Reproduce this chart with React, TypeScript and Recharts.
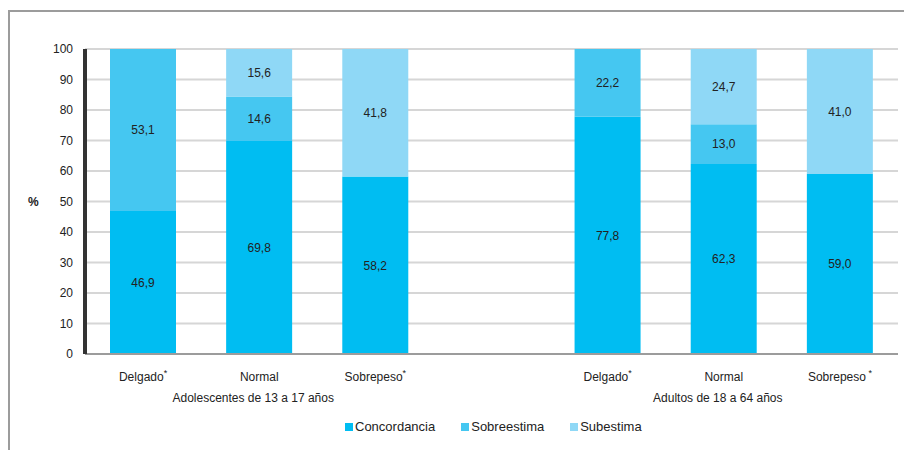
import { Bar, BarChart, CartesianGrid, LabelList, XAxis, YAxis } from "recharts";

const categories = ["Delgado", "Normal", "Sobrepeso", "", "Delgado", "Normal", "Sobrepeso"];
const asterisks = ["*", "", "*", "", "*", "", " *"];
const groupLabels = ["", "Adolescentes de 13 a 17 años", "", "", "", "Adultos de 18 a 64 años", ""];

const concordancia = [46.9, 69.8, 58.2, null, 77.8, 62.3, 59.0];
const sobreestima = [53.1, 14.6, null, null, 22.2, 13.0, null];
const subestima = [null, 15.6, 41.8, null, null, 24.7, 41.0];

const yTicks = [0, 10, 20, 30, 40, 50, 60, 70, 80, 90, 100];

const series = [
  { key: "concordancia", name: "Concordancia", color: "#00bdf2" },
  { key: "sobreestima", name: "Sobreestima", color: "#45c7f1" },
  { key: "subestima", name: "Subestima", color: "#8fd8f6" },
];

const data = categories.map((c, i) => ({
  id: i,
  name: c,
  concordancia: concordancia[i],
  sobreestima: sobreestima[i],
  subestima: subestima[i],
}));

const FONT = "Arial, 'Liberation Sans', sans-serif";

const fmt = (v: any) => (v == null ? "" : Number(v).toFixed(1).replace(".", ","));

const CategoryTick = (props: any) => {
  const { x, y, payload } = props;
  const i = payload.value;
  return (
    <g>
      <text x={x} y={y + 19} textAnchor="middle" fontSize={12} fill="#222" fontFamily={FONT}>
        {categories[i]}
        {asterisks[i] && (
          <tspan fontSize={9} dy={-5}>
            {asterisks[i]}
          </tspan>
        )}
      </text>
      {groupLabels[i] && (
        <text x={x - 6} y={y + 40} textAnchor="middle" fontSize={12} fill="#222" fontFamily={FONT}>
          {groupLabels[i]}
        </text>
      )}
    </g>
  );
};

const App = () => {
  return (
    <div style={{ position: "relative", width: 904, height: 442, overflow: "hidden" }}>
      <div
        style={{
          position: "absolute",
          top: 2,
          left: 0,
          width: 1000,
          height: 1000,
          border: "2px solid #9c9c9c",
        }}
      />
      <div style={{ position: "absolute", top: 0, left: 0 }}>
        <BarChart
          width={904}
          height={442}
          data={data}
          margin={{ top: 41, right: 14, left: 7, bottom: 0 }}
        >
          <CartesianGrid vertical={false} stroke="#d6d6d6" strokeWidth={2} />
          <XAxis
            dataKey="id"
            height={96}
            tickLine={false}
            axisLine={{ stroke: "#9c9c9c", strokeWidth: 2 }}
            interval={0}
            tick={<CategoryTick />}
          />
          <YAxis
            width={70}
            domain={[0, 100]}
            ticks={yTicks}
            tickLine={false}
            tickMargin={6}
            axisLine={{ stroke: "#333", strokeWidth: 4 }}
            tick={{ fontSize: 12, fill: "#222", fontFamily: FONT }}
            label={{
              value: "%",
              position: "insideLeft",
              offset: 13,
              style: { fontSize: 12, fontWeight: "bold", fill: "#222", fontFamily: FONT },
            }}
          />
          {series.map((s) => (
            <Bar key={s.key} dataKey={s.key} name={s.name} stackId="a" fill={s.color} barSize={66} isAnimationActive={false}>
              <LabelList
                dataKey={s.key}
                position="center"
                formatter={fmt}
                style={{ fontSize: 12, fill: "#222", fontFamily: FONT }}
              />
            </Bar>
          ))}
        </BarChart>
      </div>
      <div
        style={{
          position: "absolute",
          top: 411,
          left: 337,
          display: "flex",
          gap: 26,
          fontFamily: FONT,
          fontSize: 13,
          color: "#222",
          lineHeight: "16px",
        }}
      >
        {series.map((s) => (
          <div key={s.key} style={{ display: "flex", alignItems: "center" }}>
            <span style={{ width: 8, height: 8, background: s.color, marginRight: 2, display: "inline-block" }} />
            {s.name}
          </div>
        ))}
      </div>
    </div>
  );
};

export default App;
